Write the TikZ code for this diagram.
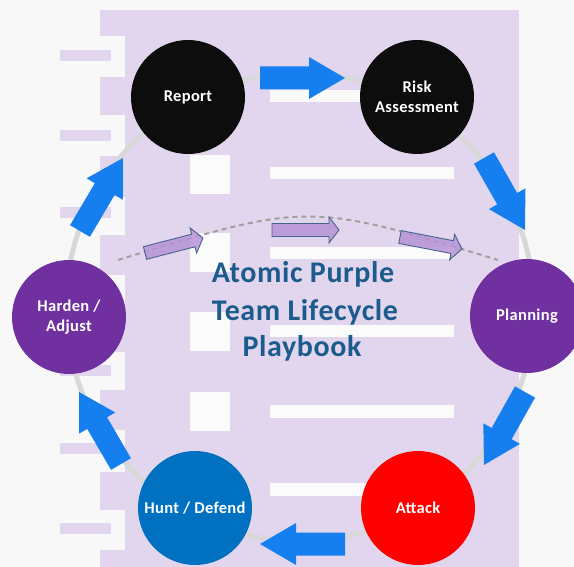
\documentclass[tikz,border=0pt]{standalone}
\usepackage{fontspec}
\setmainfont{Carlito}
\usetikzlibrary{calc}
\definecolor{bgc}{RGB}{248,248,248}
\definecolor{lav}{RGB}{226,214,238}
\definecolor{wbox}{RGB}{251,251,252}
\definecolor{ringc}{RGB}{216,216,216}
\definecolor{bluearr}{RGB}{22,127,240}
\definecolor{purfill}{RGB}{183,148,214}
\definecolor{purline}{RGB}{70,100,140}
\definecolor{dashc}{RGB}{160,160,160}
\definecolor{titlec}{RGB}{28,92,140}
\definecolor{cblack}{RGB}{13,13,13}
\definecolor{cpurple}{RGB}{112,48,160}
\definecolor{cblue}{RGB}{0,112,192}
\definecolor{cred}{RGB}{255,0,0}
\newcommand\blockarr[6]{%
  \coordinate (bh) at ($(#3)!#6!(#2)$);
  \path[#1] ($(#2)!#4!90:(#3)$) -- ($(bh)!#4!90:(#3)$) -- ($(bh)!#5!90:(#3)$) -- (#3)
    -- ($(bh)!#5!-90:(#3)$) -- ($(bh)!#4!-90:(#3)$) -- ($(#2)!#4!-90:(#3)$) -- cycle;}
\tikzset{
  stage/.style={circle, minimum size=114pt, inner sep=0pt, text=white, align=center,
    font=\bfseries\fontsize{16.5}{20}\selectfont\addfontfeature{LetterSpace=2}},
  bluefill/.style={fill=bluearr},
  purplearr/.style={fill=purfill, fill opacity=0.85, draw=purline, line width=0.9pt, line join=miter},
  titletext/.style={anchor=base, text=titlec, font=\bfseries\fontsize{30}{37}\selectfont\addfontfeature{LetterSpace=2}}
}
\begin{document}
\begin{tikzpicture}[x=1pt,y=-1pt]
\useasboundingbox (0,0) rectangle (574,567);
\fill[bgc] (0,0) rectangle (574,567);
% document-like lavender background
\fill[lav] (100,10) rectangle (519,567);
\foreach \a/\b in {36/77,115/156,197/235,275/313,352/390,430/472,510/550}
  \fill[bgc] (100,\a) rectangle (125,\b);
\foreach \a in {50,130,207,287,365,443,523}
  \fill[lav] (60,\a) rectangle (111,\a+11);
\foreach \a in {77,155,233,312,392,470}
  \fill[wbox] (190,\a) rectangle (230,\a+39);
\foreach \a in {90,167,247,325,405,483}
  \fill[wbox] (270,\a) rectangle (454,\a+12.5);
% ring
\draw[ringc, line width=5pt] (300,307) circle (234pt);
% dashed arc with purple arrows
\coordinate (d1) at (118,260);
\coordinate (d2) at (498,260);
\draw[dashc, line width=2pt, dash pattern=on 5pt off 4pt] (d1) .. controls (308,202) .. (d2);
\coordinate (pa1) at (145,253); \coordinate (pb1) at (203,238);
\coordinate (pa2) at (272,230); \coordinate (pb2) at (339,230);
\coordinate (pa3) at (400,237); \coordinate (pb3) at (462,249);
\blockarr{purplearr}{pa1}{pb1}{6.5pt}{13pt}{10pt}
\blockarr{purplearr}{pa2}{pb2}{6.5pt}{13pt}{10pt}
\blockarr{purplearr}{pa3}{pb3}{6.5pt}{13pt}{10pt}
% stages
\node[stage, fill=cblack] (report) at (188,97) {Report};
\node[stage, fill=cblack] (risk) at (417,97) {Risk\\Assessment};
\node[stage, fill=cpurple] (planning) at (527,316) {Planning};
\node[stage, fill=cred] (attack) at (418,508) {Attack};
\node[stage, fill=cblue] (hunt) at (195,508) {Hunt / Defend};
\node[stage, fill=cpurple] (harden) at (69,317) {Harden /\\Adjust};
% blue block arrows
\coordinate (ba1) at (260,78);  \coordinate (bb1) at (345,78);
\coordinate (ba2) at (484,158); \coordinate (bb2) at (525,230);
\coordinate (ba3) at (525,392); \coordinate (bb3) at (484,465);
\coordinate (ba4) at (345,544); \coordinate (bb4) at (260,544);
\coordinate (ba5) at (121,464); \coordinate (bb5) at (79,392);
\coordinate (ba6) at (80,231);  \coordinate (bb6) at (123,158);
\foreach \i in {1,...,6}{\blockarr{bluefill}{ba\i}{bb\i}{11.5pt}{21pt}{36pt}}
% title
\node[titletext] (t1) at (303,283) {Atomic Purple};
\node[titletext] (t2) at (305,320) {Team Lifecycle};
\node[titletext] (t3) at (302,357) {Playbook};
\end{tikzpicture}
\end{document}
